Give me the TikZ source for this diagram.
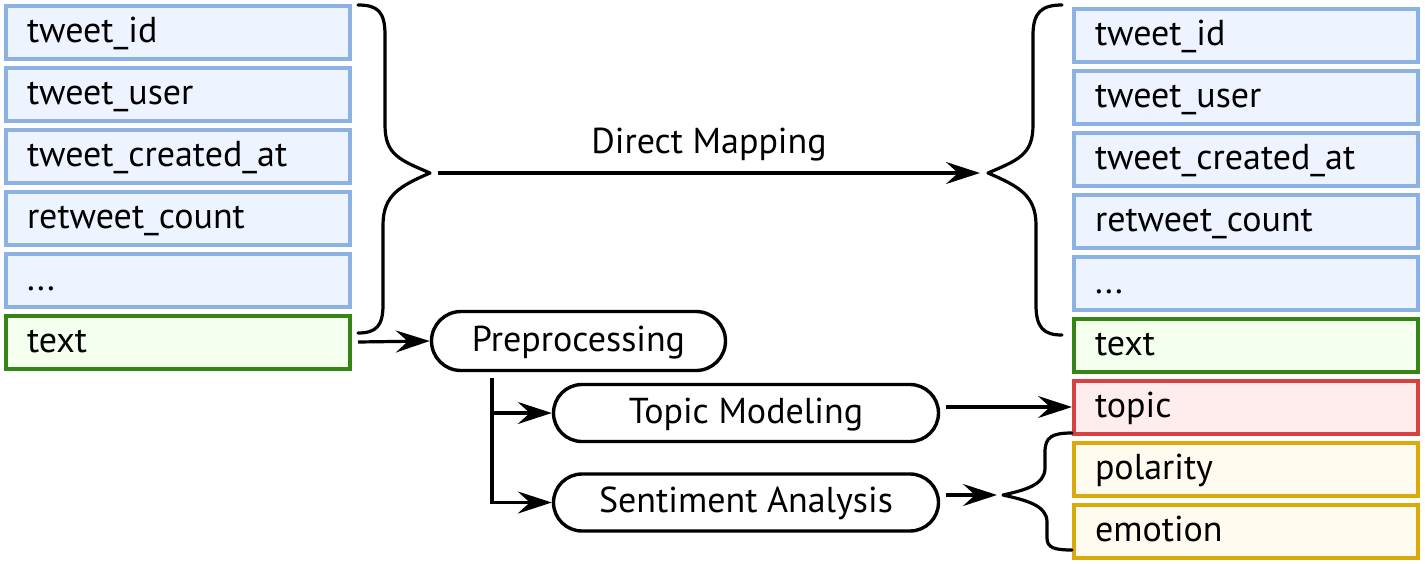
\documentclass[tikz,border=0pt]{standalone}
\usepackage{fontspec}
\setmainfont{PT Sans}
\usetikzlibrary{arrows.meta,shapes.misc}
\definecolor{bluebd}{RGB}{140,178,228}
\definecolor{bluefl}{RGB}{238,244,255}
\definecolor{greenbd}{RGB}{52,132,22}
\definecolor{greenfl}{RGB}{244,255,238}
\definecolor{redbd}{RGB}{214,66,66}
\definecolor{redfl}{RGB}{255,236,236}
\definecolor{yellowbd}{RGB}{218,170,10}
\definecolor{yellowfl}{RGB}{255,251,238}
\begin{document}
\begin{tikzpicture}[x=0.5pt,y=-0.5pt,
  field/.style={draw, line width=2pt, minimum width=172pt, minimum height=26.5pt,
    inner xsep=10.5pt, inner ysep=0pt, text width=151pt, align=left,
    text height=14pt, text depth=4pt, font=\fontsize{18}{21}\selectfont},
  bluef/.style={field, draw=bluebd, fill=bluefl},
  greenf/.style={field, draw=greenbd, fill=greenfl},
  redf/.style={field, draw=redbd, fill=redfl},
  yellowf/.style={field, draw=yellowbd, fill=yellowfl},
  proc/.style={rounded rectangle, draw, line width=1.7pt, inner sep=0pt,
    text height=14pt, text depth=4pt, font=\fontsize{18}{21}\selectfont},
  arr/.style={line width=1.6pt, -{Stealth[length=17pt,width=11pt,inset=6pt]}},
  bracel/.style={line width=1.6pt, line cap=round, line join=round}]
\useasboundingbox (0,0) rectangle (1425,563);
% left column
\node[bluef] (l1) at (178,32) {tweet\_id};
\node[bluef] (l2) at (178,94) {tweet\_user};
\node[bluef] (l3) at (178,156) {tweet\_created\_at};
\node[bluef] (l4) at (178,218) {retweet\_count};
\node[bluef] (l5) at (178,280) {...};
\node[greenf] (l6) at (178,342) {text};
% right column
\node[bluef] (r1) at (1246,35) {tweet\_id};
\node[bluef] (r2) at (1246,97) {tweet\_user};
\node[bluef] (r3) at (1246,159) {tweet\_created\_at};
\node[bluef] (r4) at (1246,221) {retweet\_count};
\node[bluef] (r5) at (1246,283) {...};
\node[greenf] (r6) at (1246,345) {text};
\node[redf] (r7) at (1246,407) {topic};
\node[yellowf] (r8) at (1246,469) {polarity};
\node[yellowf] (r9) at (1246,531) {emotion};
% process nodes
\node[proc, minimum width=147pt, minimum height=29.5pt] (pre) at (578.5,341) {Preprocessing};
\node[proc, minimum width=192.5pt, minimum height=28.5pt] (tm) at (746,413) {Topic Modeling};
\node[proc, minimum width=192.5pt, minimum height=28.5pt] (sa) at (746,502.5) {Sentiment Analysis};
% brace tips
\coordinate (lb) at (430,173);
\coordinate (rb) at (988,173);
\coordinate (sb) at (1003,495);
\coordinate (v) at (492,378);
% braces
\draw[bracel] (358,5) .. controls (378,5) and (385,12) .. (385,35) -- (385,125)
  .. controls (385,155) and (400,160) .. (lb)
  .. controls (400,186) and (383,195) .. (383,225) -- (383,305)
  .. controls (383,326) and (376,333) .. (358,333);
\draw[bracel] (1062,5) .. controls (1042,5) and (1033,12) .. (1033,35) -- (1033,125)
  .. controls (1033,155) and (1018,160) .. (rb)
  .. controls (1018,186) and (1036,195) .. (1036,225) -- (1036,305)
  .. controls (1036,328) and (1044,335) .. (1062,335);
\draw[bracel] (1072,433) .. controls (1052,433) and (1045,437) .. (1045,452) -- (1045,468)
  .. controls (1045,485) and (1025,490) .. (sb)
  .. controls (1025,500) and (1047,505) .. (1047,522) -- (1047,538)
  .. controls (1047,548) and (1055,550) .. (1072,550);
% connectors
\draw[arr] ([xshift=4pt]lb) -- ([xshift=-4pt]rb)
  node[midway, anchor=base, yshift=10pt, font=\fontsize{18}{21}\selectfont] {Direct Mapping};
\draw[arr] ([xshift=3pt]l6.east) -- (pre.west);
\draw[arr] (v) |- (tm.west);
\draw[arr] (v) |- (sa.west);
\draw[arr] ([xshift=3pt]tm.east |- r7.west) -- (r7.west);
\draw[arr] ([xshift=3pt]sa.east |- sb) -- ([xshift=-3pt]sb);
\end{tikzpicture}
\end{document}
